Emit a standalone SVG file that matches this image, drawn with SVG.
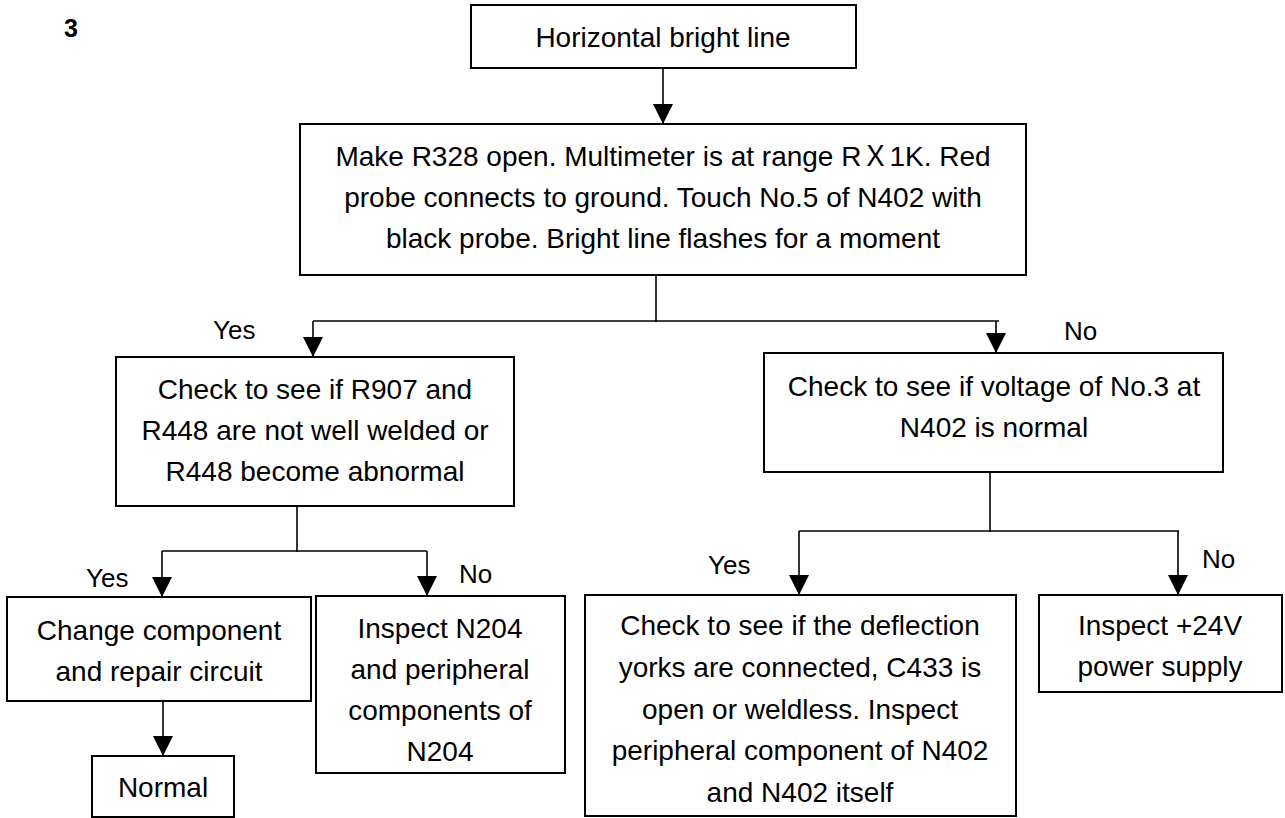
<svg xmlns="http://www.w3.org/2000/svg" width="1285" height="818" viewBox="0 0 1285 818">
<style>
.box{fill:#fff;stroke:#000;stroke-width:2}
.t{font-family:"Liberation Sans",Arial,sans-serif;font-size:28px;fill:#000;text-anchor:middle}
.lbl{font-family:"Liberation Sans",Arial,sans-serif;font-size:26px;fill:#000}
.ln{fill:none;stroke:#000;stroke-width:1.6}
.x{font-family:"Noto Sans CJK SC","Noto Sans CJK JP",sans-serif}
</style>
<defs>
<marker id="ah" viewBox="0 0 20 20" refX="20" refY="10" markerWidth="20" markerHeight="20" markerUnits="userSpaceOnUse" orient="auto">
<path d="M0,0 L20,10 L0,20 z" fill="#000"/>
</marker>
</defs>
<rect width="1285" height="818" fill="#fff"/>
<text x="64" y="37" style="font-family:'Liberation Sans',Arial,sans-serif;font-size:25px;font-weight:bold">3</text>

<g id="connectors">
<line class="ln" x1="663" y1="68" x2="663" y2="124" marker-end="url(#ah)"/>
<polyline class="ln" points="656,275 656,322"/>
<polyline class="ln" points="313,321 999,321"/>
<line class="ln" x1="313" y1="321" x2="313" y2="357" marker-end="url(#ah)"/>
<line class="ln" x1="996" y1="321" x2="996" y2="353" marker-end="url(#ah)"/>
<line class="ln" x1="297" y1="506" x2="297" y2="552"/>
<line class="ln" x1="162" y1="551" x2="427" y2="551"/>
<line class="ln" x1="162" y1="551" x2="162" y2="597" marker-end="url(#ah)"/>
<line class="ln" x1="427" y1="551" x2="427" y2="596" marker-end="url(#ah)"/>
<line class="ln" x1="163" y1="701" x2="163" y2="756" marker-end="url(#ah)"/>
<line class="ln" x1="990" y1="472" x2="990" y2="532"/>
<line class="ln" x1="799" y1="531" x2="1179" y2="531"/>
<line class="ln" x1="799" y1="531" x2="799" y2="595" marker-end="url(#ah)"/>
<line class="ln" x1="1178" y1="531" x2="1178" y2="595" marker-end="url(#ah)"/>
<text class="lbl" x="213" y="339">Yes</text>
<text class="lbl" x="1064" y="340">No</text>
<text class="lbl" x="86" y="587">Yes</text>
<text class="lbl" x="459" y="583">No</text>
<text class="lbl" x="708" y="574">Yes</text>
<text class="lbl" x="1202" y="568">No</text>
</g>

<g id="start">
<rect class="box" x="471" y="5" width="385" height="63"/>
<text class="t" x="663" y="47">Horizontal bright line</text>
</g>

<g id="test">
<rect class="box" x="300" y="124" width="726" height="151"/>
<text class="t" x="663" y="166">Make R328 open. Multimeter is at range R<tspan class="x">Ｘ</tspan>1K. Red</text>
<text class="t" x="663" y="207">probe connects to ground. Touch No.5 of N402 with</text>
<text class="t" x="663" y="248">black probe. Bright line flashes for a moment</text>
</g>

<g id="check-r907">
<rect class="box" x="116" y="357" width="398" height="149"/>
<text class="t" x="315" y="399">Check to see if R907 and</text>
<text class="t" x="315" y="440">R448 are not well welded or</text>
<text class="t" x="315" y="481">R448 become abnormal</text>
</g>

<g id="check-voltage">
<rect class="box" x="764" y="353" width="459" height="119"/>
<text class="t" x="994" y="396">Check to see if voltage of No.3 at</text>
<text class="t" x="994" y="437">N402 is normal</text>
</g>

<g id="change">
<rect class="box" x="7" y="597" width="304" height="104"/>
<text class="t" x="159" y="640">Change component</text>
<text class="t" x="159" y="681">and repair circuit</text>
</g>

<g id="normal">
<rect class="box" x="92" y="756" width="142" height="61"/>
<text class="t" x="163" y="797">Normal</text>
</g>

<g id="inspect-n204">
<rect class="box" x="316" y="596" width="249" height="177"/>
<text class="t" x="440" y="638">Inspect N204</text>
<text class="t" x="440" y="679">and peripheral</text>
<text class="t" x="440" y="720">components of</text>
<text class="t" x="440" y="761">N204</text>
</g>

<g id="check-deflection">
<rect class="box" x="585" y="595" width="431" height="221"/>
<text class="t" x="800" y="635">Check to see if the deflection</text>
<text class="t" x="800" y="677">yorks are connected, C433 is</text>
<text class="t" x="800" y="719">open or weldless. Inspect</text>
<text class="t" x="800" y="760">peripheral component of N402</text>
<text class="t" x="800" y="802">and N402 itself</text>
</g>

<g id="inspect-24v">
<rect class="box" x="1039" y="595" width="243" height="97"/>
<text class="t" x="1160" y="635">Inspect +24V</text>
<text class="t" x="1160" y="676">power supply</text>
</g>
</svg>
